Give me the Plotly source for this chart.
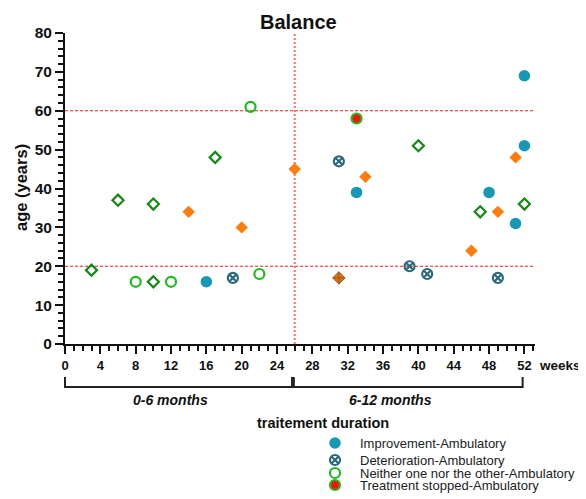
import plotly.graph_objects as go

# ---------------- data ----------------
improvement_x = [16, 33, 48, 51, 52, 52]
improvement_y = [16, 39, 39, 31, 51, 69]
deterioration_x = [19, 31, 39, 41, 49]
deterioration_y = [17, 47, 20, 18, 17]
neither_x = [8, 12, 21, 22]
neither_y = [16, 16, 61, 18]
stopped_x = [33]
stopped_y = [58]
orange_x = [14, 20, 26, 34, 46, 49, 51]
orange_y = [34, 30, 45, 43, 24, 34, 48]
gdiamond_x = [3, 6, 10, 10, 17, 40, 47, 52]
gdiamond_y = [19, 37, 36, 16, 48, 51, 34, 36]
brown_x = [31]
brown_y = [17]

x_ticks = list(range(0, 53, 4))
y_ticks = list(range(0, 81, 10))
ref_lines_y = [20, 60]
split_week = 26
legend_names = ["Improvement-Ambulatory", "Deterioration-Ambulatory",
                "Neither one nor the other-Ambulatory", "Treatment stopped-Ambulatory"]

# ---------------- layout geometry (target pixel positions) ----------------
W, H = 586, 499
OFF = 8                              # page body margin
PL, PR, PT, PB = 65, 535, 33, 344    # plot box in page pixels
XMAX = 53.2
FONT = "Liberation Sans, Arial, sans-serif"

def px(xp):
    return (xp - OFF) / W

def py(yp):
    return 1 - (yp - OFF) / H

def wk(w):  # week -> paper x
    return px(PL + w * (PR - PL) / XMAX)

C_IMP = "#1798b5"
C_DET = "#2b6a7b"
C_NEI = "#1dbb1d"
C_DG = "#138a13"
C_OR = "#ff7b0a"

m_imp = dict(symbol="circle", size=11.5, color=C_IMP, line=dict(width=0))
m_det = dict(symbol="circle-x-open", size=10, color=C_DET, line=dict(width=2.2, color=C_DET))
m_nei = dict(symbol="circle-open", size=10, color=C_NEI, line=dict(width=2.2, color=C_NEI))
m_stop = dict(symbol="circle", size=10, color="#ff1010", line=dict(width=2.2, color=C_NEI))

fig = go.Figure()

def add(x, y, name, marker, show=False):
    fig.add_trace(go.Scatter(x=x, y=y, mode="markers", name=name, marker=marker,
                             showlegend=show, hoverinfo="x+y+name"))

add(gdiamond_x, gdiamond_y, "Diamond-open", dict(symbol="diamond-open", size=8.5, color=C_DG, line=dict(width=2.2, color=C_DG)))
add(orange_x, orange_y, "Diamond-filled", dict(symbol="diamond", size=9.5, color=C_OR, line=dict(width=0)))
add(brown_x, brown_y, "Diamond-cross", dict(symbol="diamond-cross", size=9.5, color="#d8731c", line=dict(width=1, color="#a35810")))
add(improvement_x, improvement_y, legend_names[0], m_imp)
add(deterioration_x, deterioration_y, legend_names[1], m_det)
add(neither_x, neither_y, legend_names[2], m_nei)
add(stopped_x, stopped_y, legend_names[3], m_stop)

# manual legend (pixel-coordinate overlay axes)
leg_rows = [443, 460, 473, 485]
for name, mk, ry in zip(legend_names, [m_imp, m_det, m_nei, m_stop], leg_rows):
    fig.add_trace(go.Scatter(x=[335], y=[ry], mode="markers", marker=mk, xaxis="x2", yaxis="y2",
                             showlegend=False, hoverinfo="skip"))

fig.update_layout(
    width=W, height=H,
    margin=dict(l=0, r=0, t=0, b=0, autoexpand=False),
    paper_bgcolor="white", plot_bgcolor="rgba(0,0,0,0)",
    showlegend=False,
    font=dict(family=FONT, color="#111"),
    xaxis=dict(domain=[px(PL), px(PR)], range=[0, XMAX], tickvals=x_ticks, automargin=False,
               showgrid=False, zeroline=False, showline=True, linewidth=2, linecolor="#111",
               ticks="outside", ticklen=8, tickwidth=2, tickcolor="#111",
               tickfont=dict(size=13, family=FONT, weight="bold", color="#111"),
               minor=dict(dtick=1, ticks="outside", ticklen=5, tickwidth=1.5, tickcolor="#111"),
               anchor="y", fixedrange=True),
    yaxis=dict(domain=[py(PB), py(PT)], range=[0, 80], tickvals=y_ticks, automargin=False,
               showgrid=False, zeroline=False, showline=True, linewidth=2, linecolor="#111",
               ticks="outside", ticklen=8, tickwidth=2, tickcolor="#111",
               tickfont=dict(size=15.5, family=FONT, weight="bold", color="#111"),
               minor=dict(dtick=2, ticks="outside", ticklen=5, tickwidth=1.5, tickcolor="#111"),
               anchor="x", fixedrange=True),
    xaxis2=dict(domain=[0, 1], range=[OFF, OFF + W], visible=False, anchor="y2",
                automargin=False, fixedrange=True),
    yaxis2=dict(domain=[0, 1], range=[OFF + H, OFF], visible=False, anchor="x2",
                automargin=False, fixedrange=True),
)

# reference lines
for yv in ref_lines_y:
    fig.add_shape(type="line", xref="x", yref="y", x0=0, x1=XMAX, y0=yv, y1=yv,
                  line=dict(color="#ff1a1a", width=1.2, dash="3px,2px"), layer="below")
fig.add_shape(type="line", xref="x", yref="y", x0=split_week, x1=split_week, y0=0, y1=80,
              line=dict(color="#ff6a6a", width=2, dash="2px,2px"), layer="below")

# brackets under x axis
br_top, br_bot = py(377), py(387)
for a, b in [(0, 25.7), (25.9, 51.8)]:
    fig.add_shape(type="path", xref="paper", yref="paper",
                  path=f"M {wk(a)} {br_top} L {wk(a)} {br_bot} L {wk(b)} {br_bot} L {wk(b)} {br_top}",
                  line=dict(color="#222", width=2))

def ann(text, x, y, size, xanchor="center", yanchor="middle", bold=True, italic=False, angle=0, color="#111"):
    fig.add_annotation(text=text, x=px(x), y=py(y), xref="paper", yref="paper",
                       xanchor=xanchor, yanchor=yanchor, showarrow=False, textangle=angle,
                       font=dict(size=size, family=FONT, color=color,
                                 weight="bold" if bold else "normal",
                                 style="italic" if italic else "normal"))

ann("Balance", 298, 22, 20)
ann("age (years)", 21, 188, 16.5, angle=-90)
ann("age (years)", 589, 188, 16.5, angle=-90)
ann("weeks", 537, 365, 13.5, xanchor="left")
ann("0-6 months", 170, 400, 14, italic=True)
ann("6-12 months", 390, 400, 14, italic=True)
ann("traitement duration", 323, 423, 14.5)
for name, ry in zip(legend_names, leg_rows):
    ann(name, 358, ry, 13, xanchor="left", bold=False, color="#222")

fig.write_html("out.html")
